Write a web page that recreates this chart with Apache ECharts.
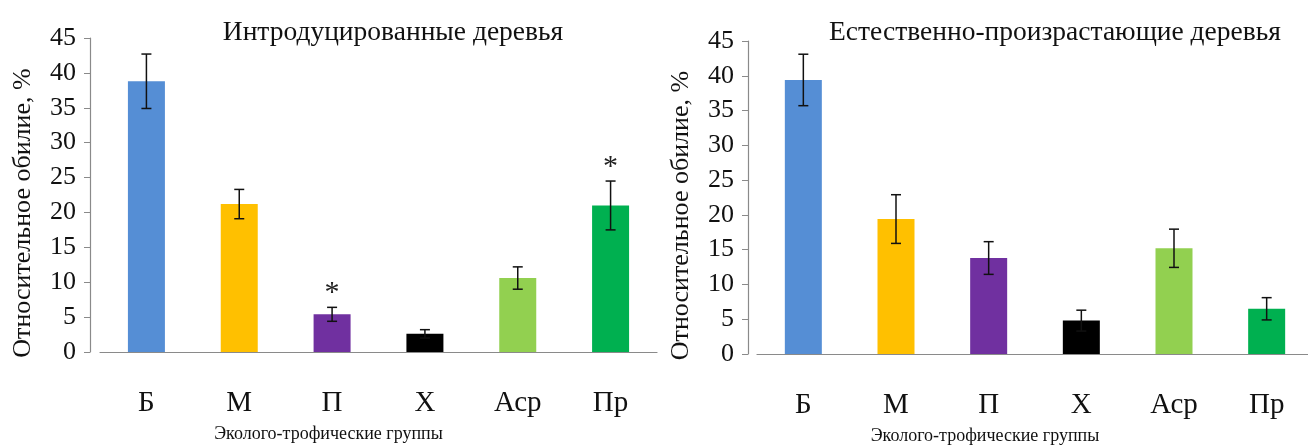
<!DOCTYPE html>
<html>
<head>
<meta charset="utf-8">
<script src="https://cdn.jsdelivr.net/npm/echarts@6/dist/echarts.min.js"></script>
<style>
html,body{margin:0;padding:0;background:#fff;}
#c{width:1308px;height:448px;}
</style>
</head>
<body>
<div id="c"></div>
<script>
const categories = ['Б', 'М', 'П', 'Х', 'Аср', 'Пр'];
const yTicks = [0, 5, 10, 15, 20, 25, 30, 35, 40, 45];
const introMeans = [38.8, 21.2, 5.4, 2.6, 10.6, 21.0];
const introErr = [3.9, 2.1, 1.0, 0.6, 1.6, 3.5];
const introStars = ['', '', '*', '', '', '*'];
const natMeans = [39.4, 19.4, 13.8, 4.8, 15.2, 6.5];
const natErr = [3.7, 3.5, 2.35, 1.5, 2.75, 1.6];
const natStars = ['', '', '', '', '', ''];
const barColors = ['#558ED5', '#FFC000', '#7030A0', '#000000', '#92D050', '#00B050'];
const titles = ['Интродуцированные деревья', 'Естественно-произрастающие деревья'];
const yName = 'Относительное обилие, %';
const xName = 'Эколого-трофические группы';

const FONT = "'Liberation Serif', 'Times New Roman', serif";
const chart = echarts.init(document.getElementById('c'), null, {renderer: 'canvas'});

function errSeries(idx, means, errs, stars) {
  return {
    type: 'custom',
    xAxisIndex: idx, yAxisIndex: idx,
    z: 5,
    data: means.map((m, i) => [i, m, errs[i]]),
    renderItem: function (params, api) {
      const i = api.value(0), m = api.value(1), e = api.value(2);
      const hi = api.coord([i, m + e]);
      const lo = api.coord([i, m - e]);
      const w = 5;
      const st = {stroke: '#111', lineWidth: 1.5};
      const children = [
        {type: 'line', shape: {x1: hi[0], y1: hi[1], x2: lo[0], y2: lo[1]}, style: st},
        {type: 'line', shape: {x1: hi[0] - w, y1: hi[1], x2: hi[0] + w, y2: hi[1]}, style: st},
        {type: 'line', shape: {x1: lo[0] - w, y1: lo[1], x2: lo[0] + w, y2: lo[1]}, style: st}
      ];
      const s = stars[params.dataIndex];
      if (s) {
        children.push({type: 'text', style: {text: s, x: hi[0], y: hi[1] + 1, textAlign: 'center', textVerticalAlign: 'bottom', fontSize: 30, fontFamily: FONT, fill: '#222'}});
      }
      return {type: 'group', children: children};
    }
  };
}

function barSeries(idx, means) {
  return {
    type: 'bar',
    xAxisIndex: idx, yAxisIndex: idx,
    barWidth: 37,
    data: means.map((v, i) => ({value: v, itemStyle: {color: barColors[i]}})),
    z: 2
  };
}

function xAxis(idx) {
  return {
    type: 'category', gridIndex: idx, data: categories,
    axisLine: {lineStyle: {color: '#8a8a8a', width: 1.2}},
    axisTick: {length: 7, lineStyle: {color: '#8a8a8a'}},
    axisLabel: {color: '#111', fontSize: 29, fontFamily: FONT, margin: 37},
    name: xName, nameLocation: 'middle', nameGap: 73,
    nameTextStyle: {color: '#111', fontSize: 18, fontFamily: FONT, padding: [0, 100, 0, 0]}
  };
}

function yAxis(idx, off) {
  return {
    type: 'value', gridIndex: idx, min: yTicks[0], max: yTicks[yTicks.length - 1], interval: 5,
    offset: off,
    axisLine: {show: true, lineStyle: {color: '#8a8a8a', width: 1.2}},
    axisTick: {show: true, length: 6, lineStyle: {color: '#8a8a8a'}},
    splitLine: {show: false},
    axisLabel: {color: '#111', fontSize: 26, fontFamily: FONT, margin: 14},
    name: yName, nameLocation: 'middle', nameGap: 54,
    nameTextStyle: {color: '#111', fontSize: 26, fontFamily: FONT, padding: [0, 36, 0, 0]}
  };
}

chart.setOption({
  backgroundColor: '#fff',
  animation: false,
  title: [
    {text: titles[0], left: 388, top: 14, textAlign: 'center', textStyle: {fontFamily: FONT, fontSize: 27.5, fontWeight: 'normal', color: '#111'}},
    {text: titles[1], left: 1050, top: 14, textAlign: 'center', textStyle: {fontFamily: FONT, fontSize: 27.5, fontWeight: 'normal', color: '#111'}}
  ],
  grid: [
    {left: 100, top: 38, width: 557, height: 314, outerBoundsMode: 'none', containLabel: false},
    {left: 757, top: 41, width: 556, height: 313, outerBoundsMode: 'none', containLabel: false}
  ],
  xAxis: [xAxis(0), xAxis(1)],
  yAxis: [yAxis(0, 10), yAxis(1, 9)],
  series: [
    barSeries(0, introMeans), errSeries(0, introMeans, introErr, introStars),
    barSeries(1, natMeans), errSeries(1, natMeans, natErr, natStars)
  ]
});
</script>
</body>
</html>
